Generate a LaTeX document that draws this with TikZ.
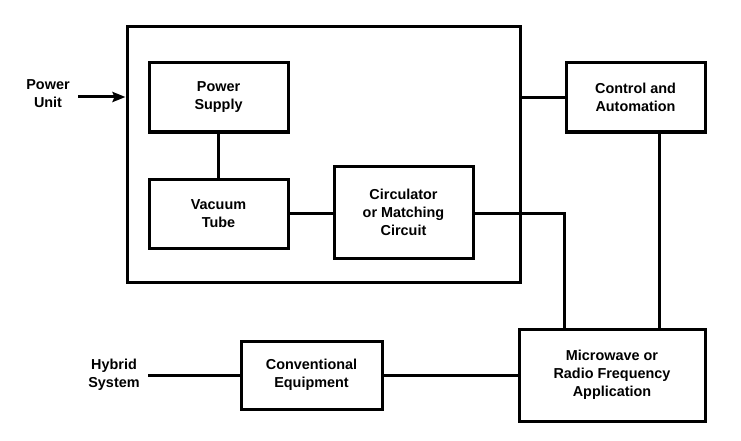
\documentclass[tikz,border=0pt]{standalone}
\usepackage{fontspec}
\setmainfont{Liberation Sans}
\usetikzlibrary{arrows.meta}
\begin{document}
\begin{tikzpicture}[x=1pt,y=-1pt,
  box/.style={draw,line width=3pt,align=center,inner sep=0pt,font=\bfseries\fontsize{14.4}{18}\selectfont},
  lbl/.style={align=center,inner sep=0pt,font=\bfseries\fontsize{14.4}{18}\selectfont},
  conn/.style={line width=3pt},
  every node/.style={text=black}]
\useasboundingbox (0,0) rectangle (741,441);
\node[box,minimum width=393pt,minimum height=255pt] (big) at (323.5,154.5) {};
\node[box,minimum width=139pt,minimum height=69pt] (ps) at (218.5,97.5) {Power\\Supply};
\node[box,minimum width=139pt,minimum height=69pt] (vt) at (218.5,213.5) {Vacuum\\Tube};
\node[box,minimum width=139pt,minimum height=92pt] (circ) at (403.5,212) {Circulator\\or Matching\\Circuit};
\node[box,minimum width=139pt,minimum height=69pt] (ctrl) at (635.5,97.5) {Control and\\Automation};
\node[box,minimum width=186pt,minimum height=92pt] (mw) at (612,375) {Microwave or\\Radio Frequency\\Application};
\node[box,minimum width=141pt,minimum height=68pt] (conv) at (311.5,375) {Conventional\\Equipment};
\node[lbl] (pu) at (48,94) {Power\\Unit};
\node[lbl] (hy) at (114,375) {Hybrid\\System};
\coordinate (pua) at (78,97);
\coordinate (hya) at (148,375);
\draw[conn,-{Stealth[length=13pt,width=10pt,inset=2pt]}] (pua) -- (big.west |- pua);
\draw[conn] (ps.south) -- (vt.north);
\draw[conn] (vt.east) -- (vt.east -| circ.west);
\draw[conn] (big.east |- ctrl) -- (ctrl.west);
\draw[conn] ([xshift=23.5pt]ctrl.south) -- ([xshift=23.5pt]ctrl.south |- mw.north);
\draw[conn] (circ.east |- vt.east) -| (mw.north -| ctrl.west);
\draw[conn] (conv.east) -- (mw.west);
\draw[conn] (hya) -- (conv.west);
\end{tikzpicture}
\end{document}
